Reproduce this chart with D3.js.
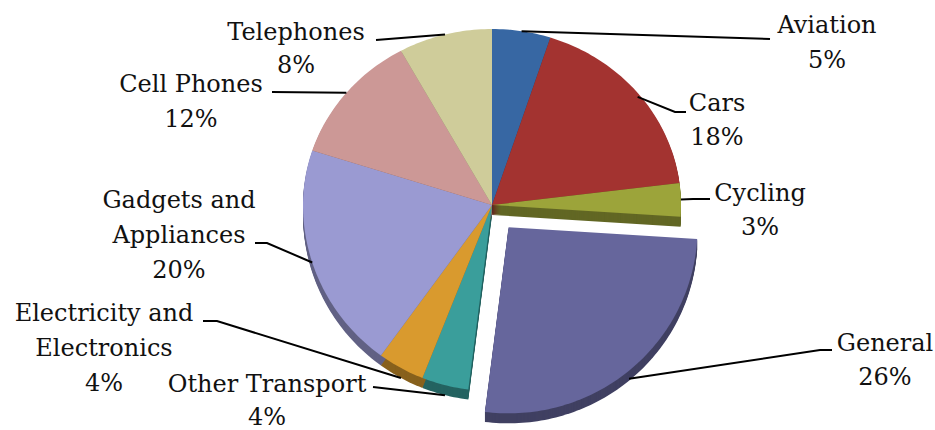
<!DOCTYPE html>
<html><head><meta charset="utf-8">
<script src="https://cdn.jsdelivr.net/npm/d3@7"></script>
<style>body{margin:0;background:#fff}svg{display:block}</style></head>
<body><svg id="c" width="935" height="430"></svg>
<script>
// ---- data ----
const categories = ["Aviation","Cars","Cycling","General","Other Transport","Electricity and Electronics","Gadgets and Appliances","Cell Phones","Telephones"];
const values = [5,18,3,26,4,4,20,12,8];
const labelLines = [["Aviation"],["Cars"],["Cycling"],["General"],["Other Transport"],["Electricity and","Electronics"],["Gadgets and","Appliances"],["Cell Phones"],["Telephones"]];
const colors = ["#3767a3","#a33330","#9ca43a","#66669c","#3a9e9b","#d99a2e","#9a9ad2","#cc9896","#cfcc9a"];
const explodedCategory = "General";

// ---- layout (positions/styles) ----
const CX = 492, CY = 205, RX = 189, RYT = 176, RYB = 186, DEPTH = 10;
const EXPLODE_X = 26, EXPLODE_Y = 29;
const layout = {
  "Aviation": {x: 827, y: 33, lh: 35, bends: [[770, 39]], drop: 0},
  "Cars": {x: 717, y: 111, lh: 34, bends: [[675, 112], [686, 112]], drop: 4},
  "Cycling": {x: 760, y: 201, lh: 34, bends: [[693, 199], [710, 199]], drop: 0},
  "General": {x: 885, y: 351, lh: 34, bends: [[820, 350], [832, 350]], drop: 8},
  "Other Transport": {x: 267, y: 392, lh: 33, bends: [[373, 387]], drop: 10},
  "Electricity and Electronics": {x: 104, y: 321, lh: 35, bends: [[217, 321], [203, 321]], drop: 10},
  "Gadgets and Appliances": {x: 179, y: 208, lh: 35, bends: [[267, 243], [255, 243]], drop: 0},
  "Cell Phones": {x: 191, y: 92, lh: 35, bends: [[272, 92]], drop: 0},
  "Telephones": {x: 296, y: 40, lh: 33, bends: [[376, 40]], drop: 0}
};

const svg = d3.select("#c");
const total = d3.sum(values);
const data = categories.map((c, i) => ({name: c, value: values[i], lines: labelLines[i], color: colors[i]}));
const arcs = d3.pie().sort(null).value(d => d.value).startAngle(0).endAngle(2 * Math.PI)(data);

function rim(a, ox, oy) {
  const c = Math.cos(a);
  return [ox + RX * Math.sin(a), oy - (c >= 0 ? RYT : RYB) * c];
}
function offsetOf(d) {
  if (d.data.name !== explodedCategory) return [0, 0];
  const m = (d.startAngle + d.endAngle) / 2;
  return [EXPLODE_X * Math.sin(m), -EXPLODE_Y * Math.cos(m)];
}
const line = d3.line().curve(d3.curveLinearClosed);
function slicePath(d, dy) {
  const [ox, oy] = offsetOf(d);
  const cx = CX + ox, cy = CY + oy + dy;
  const n = Math.max(4, Math.ceil((d.endAngle - d.startAngle) / 0.02));
  const pts = [[cx, cy]].concat(d3.range(n + 1).map(i => rim(d.startAngle + (d.endAngle - d.startAngle) * i / n, cx, cy)));
  return line(pts);
}

const gSide = svg.append("g");
arcs.forEach(d => {
  const side = d3.color(d.data.color).darker(1.3).toString();
  for (let k = DEPTH; k >= 1; k--) {
    gSide.append("path").attr("d", slicePath(d, k)).attr("fill", side);
  }
});
svg.append("g").selectAll("path").data(arcs).join("path")
  .attr("d", d => slicePath(d, 0))
  .attr("fill", d => d.data.color);

// leaders
const gLead = svg.append("g");
arcs.forEach(d => {
  const L = layout[d.data.name];
  const [ox, oy] = offsetOf(d);
  const m = (d.startAngle + d.endAngle) / 2;
  const p = rim(m, CX + ox, CY + oy);
  p[1] += L.drop;
  const pts = [p].concat(L.bends);
  gLead.append("path").attr("d", d3.line()(pts)).attr("fill", "none")
    .attr("stroke", "#000").attr("stroke-width", 2);
});

// labels
const gText = svg.append("g").attr("font-family", "DejaVu Serif").attr("font-size", 24).attr("fill", "#111");
arcs.forEach(d => {
  const L = layout[d.data.name];
  const lines = d.data.lines.concat([Math.round(d.data.value / total * 100) + "%"]);
  const t = gText.append("text").attr("text-anchor", "middle");
  lines.forEach((s, i) => {
    t.append("tspan").attr("x", L.x).attr("y", L.y + i * L.lh).text(s);
  });
});
</script></body></html>
